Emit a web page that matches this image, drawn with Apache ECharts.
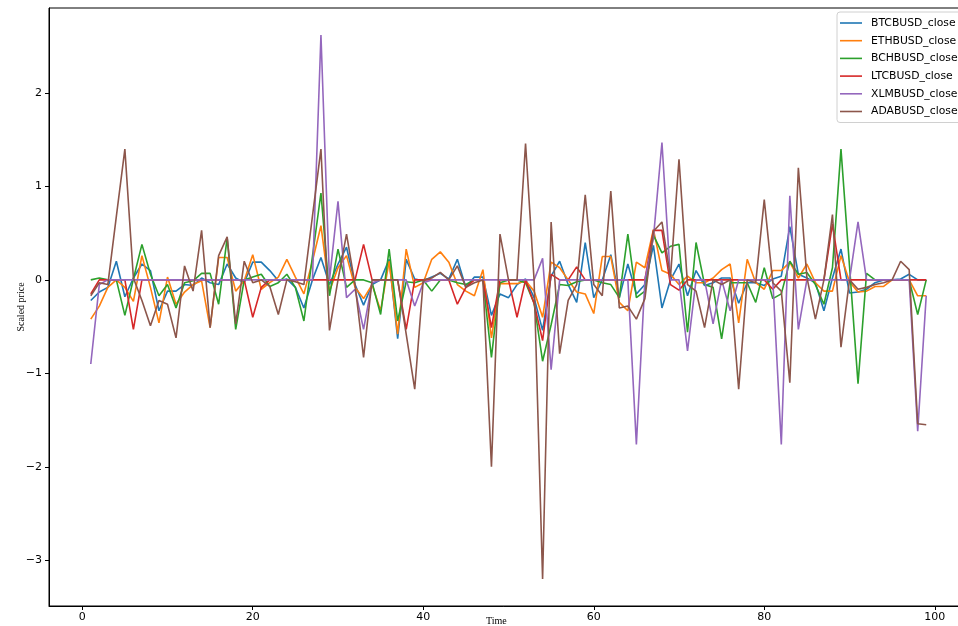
<!DOCTYPE html>
<html>
<head>
<meta charset="utf-8">
<script src="https://cdn.jsdelivr.net/npm/echarts@6/dist/echarts.min.js"></script>
<style>
html,body{margin:0;padding:0;background:#fff;}
#chart{width:958px;height:626px;}
</style>
</head>
<body>
<div id="chart"></div>
<script>
// Time steps 1..99
const seriesNames = ['BTCBUSD_close','ETHBUSD_close','BCHBUSD_close','LTCBUSD_close','XLMBUSD_close','ADABUSD_close'];
const xTicks = [0,20,40,60,80,100];
const yTicks = [-3,-2,-1,0,1,2];

const btc = [-0.22,-0.13,-0.08,0.20,-0.18,0.02,0.17,0.10,-0.33,-0.12,
 -0.12,-0.05,-0.06,0.02,-0.03,-0.05,0.17,0.02,-0.03,0.19,
 0.19,0.10,-0.01,0.01,-0.08,-0.30,0.0,0.24,-0.05,0.17,
 0.35,-0.05,-0.27,-0.05,0.0,0.22,-0.63,0.22,0.01,-0.01,
 0.03,0.07,0.01,0.22,-0.08,0.03,0.03,-0.38,-0.15,-0.19,
 -0.05,0.01,-0.19,-0.54,0.04,0.20,-0.05,-0.24,0.40,-0.19,
 0.0,0.27,-0.19,0.17,-0.15,-0.05,0.37,-0.30,0.0,0.17,
 -0.17,0.10,-0.06,-0.03,0.02,0.02,-0.25,-0.03,-0.03,-0.06,
 0.01,0.04,0.57,0.06,0.02,-0.03,-0.33,0.02,0.33,-0.14,
 -0.13,-0.10,-0.03,0.0,0.0,0.01,0.06,0.0,0.0];

const eth = [-0.42,-0.28,-0.08,0.0,-0.08,-0.23,0.26,-0.08,-0.46,0.03,
 -0.26,-0.13,-0.05,-0.01,-0.51,0.24,0.24,-0.12,-0.01,0.27,
 -0.10,-0.03,0.03,0.22,0.03,-0.15,0.20,0.58,-0.12,0.13,
 0.26,-0.08,-0.20,-0.05,-0.33,0.20,-0.58,0.33,-0.08,-0.03,
 0.22,0.30,0.19,-0.05,-0.12,-0.17,0.11,-0.62,-0.04,-0.04,
 -0.04,-0.01,-0.12,-0.40,0.19,0.13,0.0,-0.13,-0.15,-0.36,
 0.25,0.25,-0.24,-0.33,0.19,0.13,0.54,0.10,0.06,-0.05,
 0.04,-0.03,-0.03,0.02,0.11,0.17,-0.46,0.22,-0.03,-0.10,
 0.10,0.10,0.19,0.02,0.17,-0.03,-0.12,-0.12,0.26,-0.02,
 -0.13,-0.12,-0.07,-0.07,0.0,0.0,0.0,-0.17,-0.17];

const bch = [0.0,0.02,0.0,0.0,-0.38,0.01,0.38,0.06,-0.17,-0.05,
 -0.30,-0.03,-0.01,0.07,0.07,-0.26,0.45,-0.53,0.0,0.03,
 0.06,-0.07,-0.03,0.06,-0.08,-0.44,0.25,0.93,-0.17,0.33,
 -0.08,0.0,0.0,-0.03,-0.37,0.33,-0.44,-0.02,-0.03,0.0,
 -0.12,0.0,0.0,-0.03,-0.05,0.0,0.0,-0.83,-0.03,0.0,
 0.0,-0.03,-0.25,-0.87,-0.48,-0.05,-0.06,-0.02,0.0,0.0,
 -0.03,-0.05,-0.19,0.49,-0.19,-0.12,0.48,0.29,0.36,0.38,
 -0.56,0.40,-0.05,-0.08,-0.63,-0.03,-0.03,-0.03,-0.24,0.13,
 -0.20,-0.15,0.20,0.06,0.08,-0.05,-0.26,0.13,1.40,0.15,
 -1.11,0.07,0.0,0.0,0.0,0.0,0.0,-0.37,0.0];

const ltc = [-0.15,0,0,0,0,-0.53,0,0,0,0,
 0,0,0,0,0,0,0,0,0,-0.40,
 -0.08,0,0,0,0,0,0,0,0,0,
 0,0,0.38,0,0,0,0,-0.53,0,0,
 0,0,0,-0.26,-0.08,0,0,-0.51,0,0,
 -0.40,0,-0.25,-0.65,0.06,0,0,0.14,0,0,
 0,0,0,0,0,0,0.53,0.53,-0.05,-0.11,
 0,0,0,0,0,0,0,0,0,0,
 -0.10,0,0,0,0,0,0,0.60,0,0,
 0,0,0,0,0,0,0,0,0];

const xlm = [-0.90,-0.05,0,0,0,0,0,0,0,0,
 0,0,0,0,0,0,0,0,0,0,
 0,0,0,0,0,0,0,2.62,0,0.84,
 -0.19,-0.10,-0.53,-0.03,0,0,0,0,-0.28,-0.03,
 0,0,0,0,0,0,0,0,0,0,
 0,0,0,0.23,-0.96,0,0,0,0,0,
 0,0,0,0,-1.76,0,0.45,1.47,0,0,
 -0.76,0,0,-0.47,0,-0.33,0,0,0,0,
 0,-1.76,0.90,-0.53,0,0,0,0,0,0,
 0.62,0,0,0,0,0,0,-1.62,-0.17];

const ada = [-0.17,-0.03,-0.05,0.68,1.40,0.02,-0.22,-0.49,-0.22,-0.26,
 -0.62,0.15,-0.12,0.53,-0.51,0.26,0.46,-0.47,0.20,-0.03,
 0.0,-0.07,-0.37,0.0,-0.02,-0.05,0.68,1.40,-0.54,0.0,
 0.49,-0.05,-0.83,0.0,0.0,0.0,0.0,-0.58,-1.17,0.0,
 0.02,0.08,0.0,0.15,-0.08,-0.03,0.0,-2.0,0.49,0.0,
 0.0,1.46,0.0,-3.20,0.62,-0.79,-0.22,-0.05,0.91,-0.05,
 -0.17,0.95,-0.30,-0.28,-0.42,-0.20,0.52,0.62,0.03,1.29,
 -0.05,-0.12,-0.51,0.0,-0.05,0.0,-1.17,0.0,-0.03,0.86,
 -0.03,-0.12,-1.10,1.20,0.03,-0.42,0.0,0.70,-0.72,0.0,
 -0.10,-0.08,-0.05,-0.03,0.0,0.20,0.11,-1.54,-1.55];

const colors = ['#1f77b4','#ff7f0e','#2ca02c','#d62728','#9467bd','#8c564b'];
const allData = [btc, eth, bch, ltc, xlm, ada];

const fmt = v => v < 0 ? '\u2212' + Math.abs(v) : String(v);

const chart = echarts.init(document.getElementById('chart'), null, {renderer:'canvas'});
chart.setOption({
  animation: false,
  backgroundColor: '#fff',
  color: colors,
  grid: {left: 49, top: 8, right: -10, bottom: 20, containLabel: false, outerBoundsMode: 'none',
         show: true, borderColor: '#000', borderWidth: 1, backgroundColor: 'transparent'},
  xAxis: {
    type: 'value', min: -3.9, max: 103.9,
    splitLine: {show: false},
    axisLine: {show: true, onZero: false, lineStyle: {color: '#000', width: 1}},
    axisTick: {show: true, length: 4, lineStyle: {color: '#000'}, customValues: xTicks},
    axisLabel: {color: '#000', fontFamily: 'DejaVu Sans', fontSize: 11, margin: 6, customValues: xTicks, formatter: fmt}
  },
  yAxis: {
    type: 'value', min: -3.49, max: 2.91,
    name: 'Scaled price', nameLocation: 'middle', nameGap: 23, nameMoveOverlap: false,
    nameTextStyle: {color: '#000', fontFamily: 'Liberation Serif', fontSize: 10},
    splitLine: {show: false},
    axisLine: {show: true, onZero: false, lineStyle: {color: '#000', width: 1}},
    axisTick: {show: true, length: 4, lineStyle: {color: '#000'}, customValues: yTicks},
    axisLabel: {color: '#000', fontFamily: 'DejaVu Sans', fontSize: 11, margin: 7, customValues: yTicks, formatter: fmt}
  },
  legend: {
    orient: 'vertical', left: 837, top: 12,
    padding: [4, 40, 4, 3],
    backgroundColor: '#fff', borderColor: '#d0d0d0', borderWidth: 1, borderRadius: 3,
    icon: 'rect', itemWidth: 22, itemHeight: 1.6, itemGap: 3.7,
    textStyle: {color: '#000', fontFamily: 'DejaVu Sans', fontSize: 10.8, lineHeight: 14, padding: [0,0,0,4]},
    data: seriesNames
  },
  graphic: [{
    type: 'text', left: 486, top: 616,
    style: {text: 'Time', fill: '#000', font: '10px "Liberation Serif"'}
  }],
  series: seriesNames.map((name, i) => ({
    name: name, type: 'line', showSymbol: false, symbol: 'none',
    lineStyle: {width: 1.6, color: colors[i]},
    itemStyle: {color: colors[i]},
    data: allData[i].map((v, k) => [k + 1, v])
  }))
});
</script>
</body>
</html>
